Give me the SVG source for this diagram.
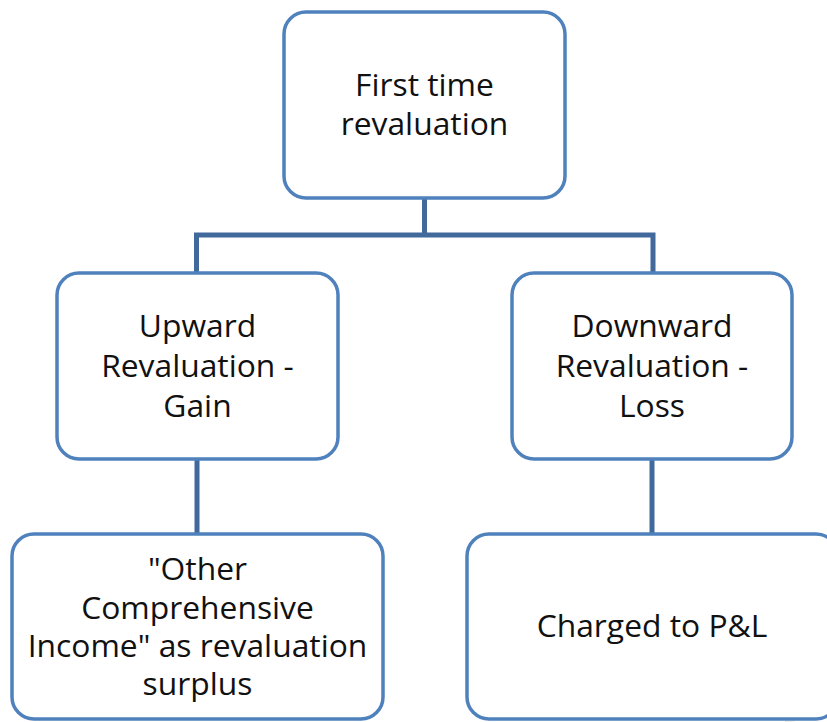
<svg xmlns="http://www.w3.org/2000/svg" width="827" height="722" viewBox="0 0 827 722">
  <style>
    .box { fill: #ffffff; stroke: #4f81bd; stroke-width: 3.5; }
    .lbl { font-family: "Open Sans", "Noto Sans", "DejaVu Sans", sans-serif; font-size: 31.8px; fill: #111111; text-anchor: middle; }
    .conn { fill: none; stroke: #41699c; stroke-width: 5; }
  </style>
  <rect width="827" height="722" fill="#ffffff"/>
  <!-- faint watermark arc, lower right -->
  <path d="M 790 722 A 30 30 0 0 1 827 690" fill="none" stroke="#eeeeee" stroke-width="10"/>

  <g id="connectors">
    <path class="conn" d="M 424.5 198 V 235 M 196.5 272 V 235 H 653 V 272"/>
    <path class="conn" d="M 197 460 V 533"/>
    <path class="conn" d="M 652 460 V 533"/>
  </g>

  <g id="first-time">
    <rect class="box" x="284" y="12" width="281" height="186" rx="22"/>
    <text class="lbl" x="424.5" y="96">First time</text>
    <text class="lbl" x="424.5" y="135">revaluation</text>
  </g>

  <g id="upward">
    <rect class="box" x="57" y="273" width="281" height="186" rx="22"/>
    <text class="lbl" x="197.5" y="337">Upward</text>
    <text class="lbl" x="197.5" y="377">Revaluation -</text>
    <text class="lbl" x="197.5" y="417">Gain</text>
  </g>

  <g id="downward">
    <rect class="box" x="512" y="273" width="280" height="186" rx="22"/>
    <text class="lbl" x="652" y="337">Downward</text>
    <text class="lbl" x="652" y="377">Revaluation -</text>
    <text class="lbl" x="652" y="417">Loss</text>
  </g>

  <g id="oci">
    <rect class="box" x="12" y="534" width="371" height="185" rx="22"/>
    <text class="lbl" x="197.5" y="580">"Other</text>
    <text class="lbl" x="197.5" y="619">Comprehensive</text>
    <text class="lbl" x="197.5" y="657">Income" as revaluation</text>
    <text class="lbl" x="197.5" y="695">surplus</text>
  </g>

  <g id="pl">
    <rect class="box" x="467" y="534" width="371" height="185" rx="22"/>
    <text class="lbl" x="652" y="637">Charged to P&amp;L</text>
  </g>
</svg>
